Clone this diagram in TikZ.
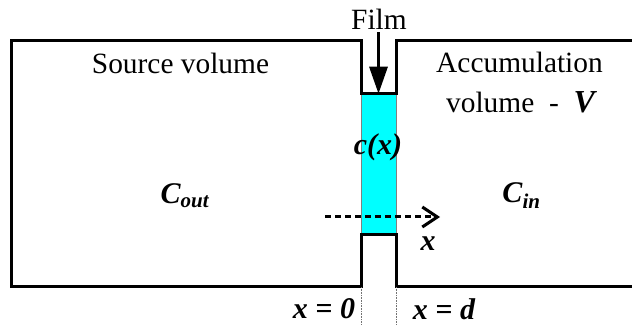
\documentclass[tikz,border=0pt]{standalone}
\usepackage{fontspec}
\setmainfont{Liberation Serif}
\usetikzlibrary{arrows.meta,positioning}
\definecolor{filmcyan}{HTML}{00FFFF}
\begin{document}
\begin{tikzpicture}[
  x=1pt,y=-1pt,
  every node/.style={font=\fontsize{29.4}{31}\selectfont,inner sep=0pt},
  symb/.style={font=\fontsize{30}{32}\selectfont\bfseries\itshape},
  wall/.style={line width=3pt,draw=black,line join=miter},
  guide/.style={densely dotted,draw=black!55,line width=0.6pt},
  arrow/.style={-{Triangle[length=27pt,width=18pt]},line width=3pt,draw=black},
  xaxis/.style={-{Straight Barb[length=15pt,width=20pt,line width=3pt]},dash pattern=on 6pt off 4pt,line width=3pt,draw=black}
]
\useasboundingbox (0,0) rectangle (632,328);
% film
\node[draw=black!50,line width=0.5pt,fill=filmcyan,minimum width=35pt,minimum height=141pt] (film) at (378.5,164.5) {};
% walls
\draw[wall] (632,41)--(396,41)--(396,94)--(361,94)--(361,41)--(11,41)--(11,287)--(361,287)--(361,235)--(396,235)--(396,287)--(632,287);
\draw[guide] (361,287)--(361,325);
\draw[guide] (396,287)--(396,325);
% labels
\node (filmlabel) at (379,19) {Film};
\node (source) at (180.5,63) {Source volume};
\node (accum) at (519.5,62) {Accumulation};
\node (vol) at (520.5,102) {volume\ \ -\ \ {\fontsize{32}{32}\selectfont\bfseries\itshape V}};
\node[symb] (conc) at (378,147) {c(x)};
\node[symb] (cout) at (185,196) {C\textsubscript{out}};
\node[symb] (cin) at (521.5,196) {C\textsubscript{in}};
\node[symb] (xlabel) at (428,244) {x};
\node[symb] (xzero) at (324,309) {x = 0};
\node[symb] (xd) at (444,309) {x = d};
% arrows
\coordinate (xstart) at (325,217);
\coordinate (xend) at (440,217);
\draw[arrow] (filmlabel.south -| film.north) ++(0,3) -- (film.north);
\draw[xaxis] (xstart)--(xend);
\end{tikzpicture}
\end{document}
